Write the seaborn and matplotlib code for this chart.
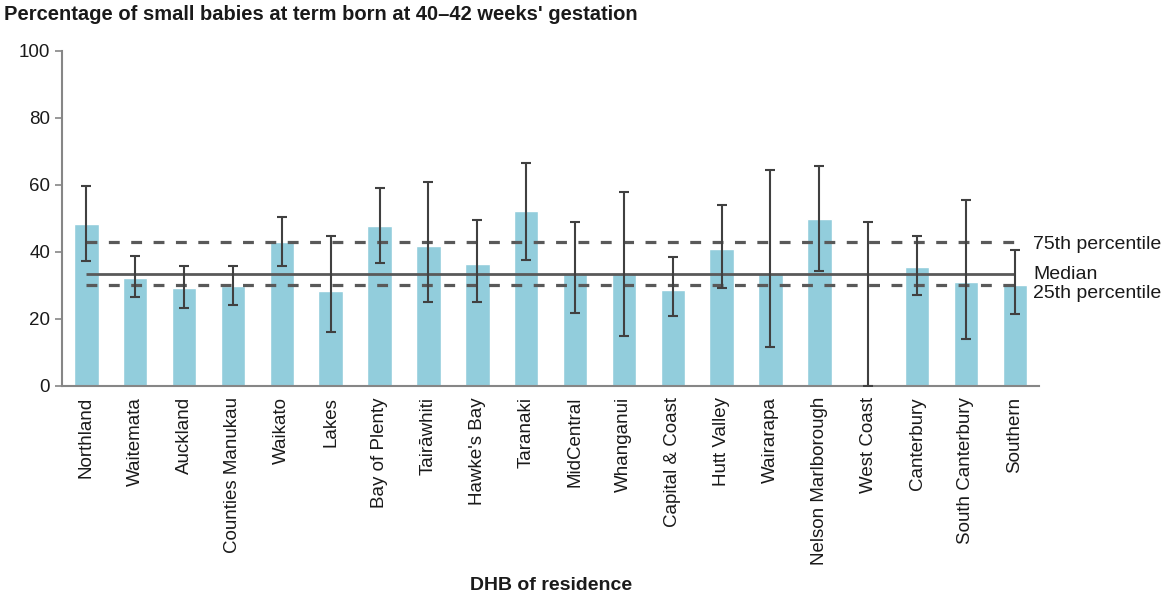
# coding:utf-8
import numpy as np
import pandas as pd
import matplotlib
matplotlib.use('Agg')
import matplotlib.pyplot as plt
import seaborn as sns

# DHB of residence, in chart order
dhbs = ['Northland', 'Waitemata', 'Auckland', 'Counties Manukau', 'Waikato', 'Lakes',
        'Bay of Plenty', 'Tairāwhiti', "Hawke's Bay", 'Taranaki', 'MidCentral', 'Whanganui',
        'Capital & Coast', 'Hutt Valley', 'Wairarapa', 'Nelson Marlborough', 'West Coast',
        'Canterbury', 'South Canterbury', 'Southern']
# percentage (West Coast bar not shown)
pct = [48.4, 32.3, 29.1, 29.8, 42.9, 28.4, 47.8, 41.9, 36.4, 52.2, 33.4, 33.4,
       28.7, 41.0, 33.4, 49.7, np.nan, 35.6, 31.0, 30.1]
ci_low = [37.2, 26.6, 23.4, 24.3, 35.8, 16.0, 36.8, 25.2, 25.2, 37.5, 21.7, 14.9,
          20.9, 29.2, 11.7, 34.3, 0.0, 27.3, 14.1, 21.6]
ci_high = [59.8, 38.7, 35.8, 35.8, 50.4, 44.9, 59.0, 61.0, 49.6, 66.5, 48.9, 58.0,
           38.4, 53.9, 64.5, 65.6, 48.9, 44.7, 55.6, 40.5]
p75 = 42.9
median = 33.4
p25 = 30.0

sns.set_style('white')
plt.rcParams['font.family'] = ['Liberation Sans', 'DejaVu Sans']

fig = plt.figure(figsize=(11.69, 5.92), dpi=100)
ax = fig.add_axes([0.053, 0.348, 0.836, 0.566])

df = pd.DataFrame({'dhb': dhbs, 'pct': pct})
sns.barplot(data=df, x='dhb', y='pct', order=dhbs, color='#92CDDC', saturation=1,
            width=0.5, errorbar=None, ax=ax)

n = len(dhbs)
xs = np.arange(n)
lo = np.array(ci_low)
hi = np.array(ci_high)
ax.errorbar(xs, (lo + hi) / 2, yerr=(hi - lo) / 2, fmt='none', ecolor='#404040',
            elinewidth=1.5, capsize=3.8, capthick=1.5, zorder=4)

dash = (0, (3.4, 3.6))
ax.hlines(p75, 0, n - 1, colors='#595959', linestyles=dash, linewidth=2.3, zorder=3)
ax.hlines(median, 0, n - 1, colors='#595959', linestyles='solid', linewidth=2.0, zorder=3)
ax.hlines(p25, 0, n - 1, colors='#595959', linestyles=dash, linewidth=2.3, zorder=3)

lab_x = n - 1 + 0.37
ax.text(lab_x, p75 - 0.6, '75th percentile', fontsize=14, va='center', ha='left', color='#1a1a1a')
ax.text(lab_x, median - 0.1, 'Median', fontsize=14, va='center', ha='left', color='#1a1a1a')
ax.text(lab_x, p25 - 2.3, '25th percentile', fontsize=14, va='center', ha='left', color='#1a1a1a')

ax.set_xlim(-0.5, n - 0.5)
ax.set_ylim(0, 100)
ax.set_yticks(range(0, 101, 20))
ax.set_xticks(xs)
ax.set_xticklabels(dhbs, rotation=90, fontsize=13.5, color='#1a1a1a')
ax.set_xticks(np.arange(-0.5, n, 1), minor=True)
ax.tick_params(axis='x', which='major', length=0, pad=8)
ax.tick_params(axis='x', which='minor', length=5, width=1.2, color='#868686', direction='out')
ax.tick_params(axis='y', length=5, width=1.2, color='#868686', direction='out',
               labelsize=13.5, labelcolor='#1a1a1a', left=True)

for side in ['top', 'right']:
    ax.spines[side].set_visible(False)
for side in ['left', 'bottom']:
    ax.spines[side].set_color('#868686')
    ax.spines[side].set_linewidth(1.5)

ax.set_ylabel('')
ax.set_xlabel('DHB of residence', fontsize=14, fontweight='bold', color='#1a1a1a', labelpad=8)
fig.text(0.003, 0.975, "Percentage of small babies at term born at 40\u201342 weeks' gestation",
         fontsize=14.5, fontweight='bold', color='#1a1a1a', ha='left', va='center')

fig.savefig('out.png', dpi=100)
